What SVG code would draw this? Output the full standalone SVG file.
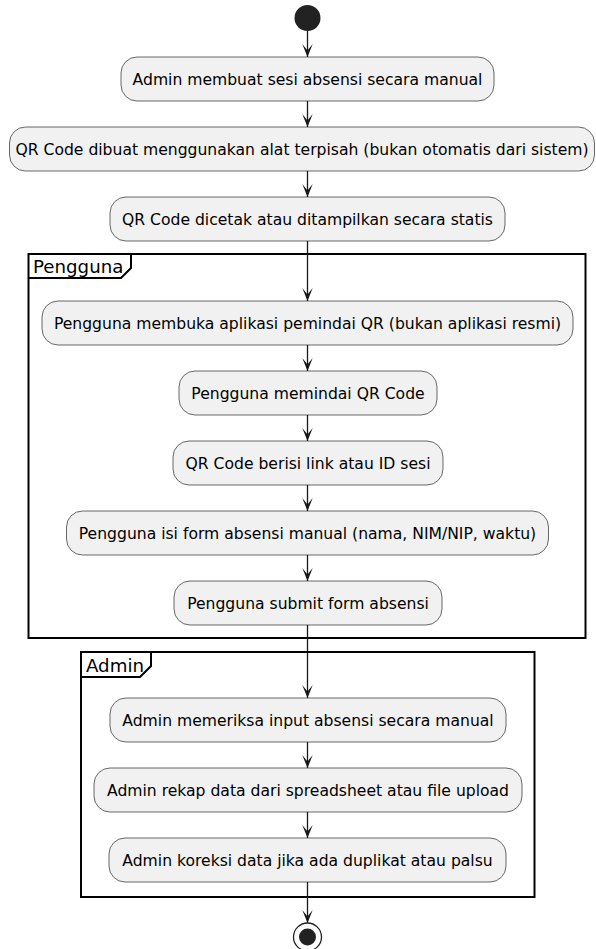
<svg xmlns="http://www.w3.org/2000/svg" width="596" height="949" viewBox="0 0 596 949">
<style>
.box{fill:#F1F1F1;stroke:#181818;stroke-width:0.65}
.t{font-family:"DejaVu Sans",sans-serif;font-size:15.6px;fill:#000;text-anchor:middle}
.frame{fill:none;stroke:#000;stroke-width:2}
.ft{font-family:"DejaVu Sans",sans-serif;font-size:18.2px;fill:#000}
.c{stroke:#181818;stroke-width:1.3;fill:none;marker-end:url(#ah)}
</style>
<defs>
<marker id="ah" viewBox="-13 -5.2 13 10.4" refX="0" refY="0" markerWidth="13" markerHeight="10.4" markerUnits="userSpaceOnUse" orient="auto">
<path d="M-13,-5.2 L0,0 L-13,5.2 L-6.5,0 Z" fill="#181818"/>
</marker>
</defs>
<g id="frame-pengguna">
<rect class="frame" x="28.5" y="254" width="557" height="384"/>
<path class="frame" d="M28.5,278 L121,278 L131,268 L131,254"/>
<text class="ft" x="33" y="273">Pengguna</text>
</g>
<g id="frame-admin">
<rect class="frame" x="81" y="652" width="453.5" height="245"/>
<path class="frame" d="M81,677 L140,677 L151,666 L151,652"/>
<text class="ft" x="86" y="672">Admin</text>
</g>
<g id="connectors">
<line class="c" x1="307.5" y1="31" x2="307.5" y2="57"/>
<line class="c" x1="307.5" y1="101" x2="307.5" y2="127"/>
<line class="c" x1="307.5" y1="171" x2="307.5" y2="197"/>
<line class="c" x1="307.5" y1="241" x2="307.5" y2="301"/>
<line class="c" x1="307.5" y1="345" x2="307.5" y2="371"/>
<line class="c" x1="307.5" y1="415" x2="307.5" y2="441"/>
<line class="c" x1="307.5" y1="485" x2="307.5" y2="511"/>
<line class="c" x1="307.5" y1="555" x2="307.5" y2="581"/>
<line class="c" x1="307.5" y1="625" x2="307.5" y2="698"/>
<line class="c" x1="307.5" y1="742" x2="307.5" y2="768"/>
<line class="c" x1="307.5" y1="812" x2="307.5" y2="838"/>
<line class="c" x1="307.5" y1="882" x2="307.5" y2="923"/>
</g>
<g id="start"><circle cx="307.5" cy="18" r="13" fill="#222222"/></g>
<g id="n1"><rect class="box" x="121" y="57" width="373" height="44" rx="16"/><text class="t" x="307.5" y="84.5">Admin membuat sesi absensi secara manual</text></g>
<g id="n2"><rect class="box" x="9.5" y="127" width="585" height="44" rx="16"/><text class="t" x="302" y="154.5">QR Code dibuat menggunakan alat terpisah (bukan otomatis dari sistem)</text></g>
<g id="n3"><rect class="box" x="110" y="197" width="395" height="44" rx="16"/><text class="t" x="307.5" y="224.5">QR Code dicetak atau ditampilkan secara statis</text></g>
<g id="n4"><rect class="box" x="42" y="301" width="531" height="44" rx="16"/><text class="t" x="307.5" y="328.5">Pengguna membuka aplikasi pemindai QR (bukan aplikasi resmi)</text></g>
<g id="n5"><rect class="box" x="179" y="371" width="258" height="44" rx="16"/><text class="t" x="308" y="398.5">Pengguna memindai QR Code</text></g>
<g id="n6"><rect class="box" x="173" y="441" width="270" height="44" rx="16"/><text class="t" x="308" y="468.5">QR Code berisi link atau ID sesi</text></g>
<g id="n7"><rect class="box" x="66.5" y="511" width="482" height="44" rx="16"/><text class="t" x="307.5" y="538.5">Pengguna isi form absensi manual (nama, NIM/NIP, waktu)</text></g>
<g id="n8"><rect class="box" x="174" y="581" width="268" height="44" rx="16"/><text class="t" x="308" y="608.5">Pengguna submit form absensi</text></g>
<g id="n9"><rect class="box" x="110" y="698" width="396" height="44" rx="16"/><text class="t" x="308" y="725.5">Admin memeriksa input absensi secara manual</text></g>
<g id="n10"><rect class="box" x="94" y="768" width="428" height="44" rx="16"/><text class="t" x="308" y="795.5">Admin rekap data dari spreadsheet atau file upload</text></g>
<g id="n11"><rect class="box" x="109" y="838" width="397" height="44" rx="16"/><text class="t" x="307.5" y="865.5">Admin koreksi data jika ada duplikat atau palsu</text></g>
<g id="end"><circle cx="307.5" cy="937" r="14" fill="none" stroke="#222222" stroke-width="1.3"/><circle cx="307.5" cy="937" r="8.5" fill="#222222"/></g>
</svg>
